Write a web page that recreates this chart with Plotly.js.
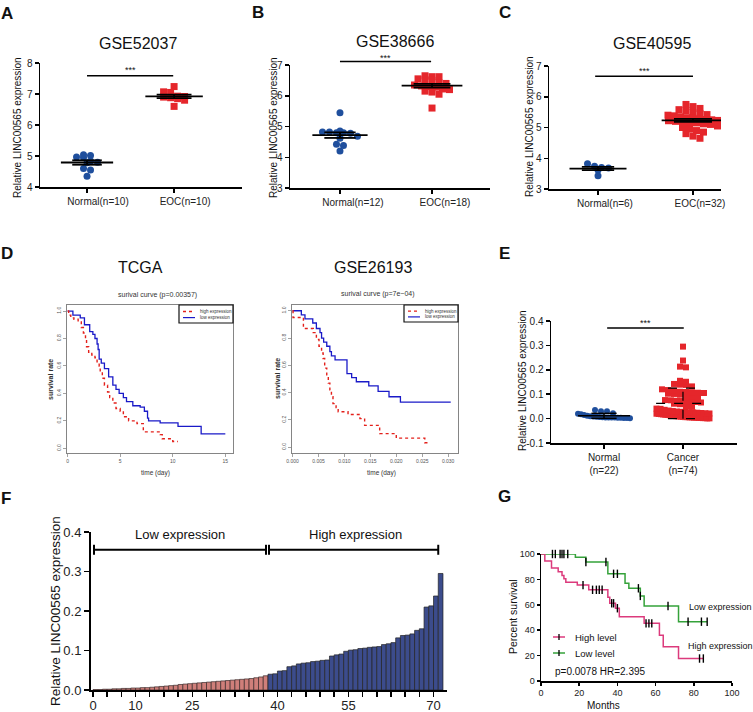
<!DOCTYPE html>
<html><head><meta charset="utf-8">
<script src="https://cdn.plot.ly/plotly-3.0.1.min.js"></script>
<style>html,body{margin:0;padding:0;background:#fff}#chart{width:753px;height:712px}</style>
</head><body><div id="chart"></div>
<script>
// ---------------- DATA ----------------
const aLabels = ['Normal(n=10)', 'EOC(n=10)'];
const aNormal = [5.02, 4.95, 4.97, 5.04, 4.84, 4.80, 4.78, 4.60, 4.55, 4.35];
const aEOC = [7.24, 7.05, 7.07, 6.93, 6.90, 6.88, 6.92, 6.85, 6.80, 6.60];

const bLabels = ['Normal(n=12)', 'EOC(n=18)'];
const bNormal = [5.45, 4.85, 4.82, 4.78, 4.80, 4.82, 4.68, 4.62, 4.42, 4.38, 4.20, 4.80];
const bEOC = [6.65, 6.62, 6.62, 6.55, 6.52, 6.50, 6.42, 6.40, 6.35, 6.32, 6.30, 6.28, 6.22, 6.20, 6.15, 6.12, 6.05, 5.60];

const cLabels = ['Normal(n=6)', 'EOC(n=32)'];
const cNormal = [3.82, 3.74, 3.70, 3.68, 3.62, 3.43];
const cEOC = [5.75, 5.68, 5.62, 5.58, 5.55, 5.48, 5.45, 5.42, 5.40, 5.38, 5.35, 5.32, 5.30, 5.28, 5.26, 5.25,
              5.23, 5.22, 5.20, 5.18, 5.16, 5.15, 5.12, 5.10, 5.05, 5.00, 4.95, 4.90, 4.85, 4.80, 4.72, 4.65];

// D: Kaplan-Meier (time, survival) steps
const tcgaHighT = [0, 0.1, 0.3, 0.6, 1.0, 1.3, 1.5, 1.7, 1.8, 2.0, 2.3, 2.6, 2.8, 3.0, 3.1, 3.3, 3.5, 3.8, 4.0, 4.3, 4.6, 5.0, 5.3, 5.8, 6.6, 7.2, 8.8, 9.0, 9.5, 10.0, 10.5];
const tcgaHighS = [1.0, 0.97, 0.95, 0.94, 0.92, 0.88, 0.84, 0.79, 0.74, 0.70, 0.68, 0.66, 0.63, 0.60, 0.56, 0.51, 0.46, 0.41, 0.37, 0.33, 0.29, 0.27, 0.23, 0.20, 0.18, 0.12, 0.10, 0.07, 0.07, 0.05, 0.05];
const tcgaLowT = [0, 0.5, 1.2, 1.6, 2.1, 2.4, 2.6, 2.8, 2.9, 3.0, 3.2, 3.5, 3.9, 4.3, 4.6, 4.9, 5.3, 5.6, 6.2, 6.9, 7.3, 7.6, 7.7, 8.8, 10.5, 12.7, 15.0];
const tcgaLowS = [1.0, 0.97, 0.95, 0.90, 0.85, 0.83, 0.80, 0.76, 0.72, 0.65, 0.62, 0.58, 0.52, 0.46, 0.43, 0.40, 0.37, 0.34, 0.31, 0.30, 0.27, 0.22, 0.20, 0.185, 0.16, 0.105, 0.105];
const gseHighT = [0, 0.0001, 0.0021, 0.0040, 0.0046, 0.0051, 0.0056, 0.0059, 0.0062, 0.0066, 0.0069, 0.0072, 0.0075, 0.0078, 0.0084, 0.0088, 0.0107, 0.0130, 0.0139, 0.0168, 0.0200, 0.0255, 0.0261];
const gseHighS = [1.0, 0.95, 0.87, 0.84, 0.79, 0.74, 0.69, 0.65, 0.58, 0.53, 0.47, 0.42, 0.37, 0.32, 0.29, 0.26, 0.24, 0.21, 0.16, 0.10, 0.067, 0.033, 0.033];
const gseLowT = [0, 0.0017, 0.0024, 0.0039, 0.0046, 0.0053, 0.0056, 0.0060, 0.0066, 0.0072, 0.0075, 0.0082, 0.0105, 0.0114, 0.0123, 0.0147, 0.0165, 0.0186, 0.0208, 0.0305];
const gseLowS = [1.0, 0.97, 0.94, 0.91, 0.87, 0.84, 0.80, 0.77, 0.74, 0.70, 0.67, 0.64, 0.54, 0.51, 0.48, 0.45, 0.41, 0.37, 0.33, 0.33];

// F / E: relative expression of the 74 cancer samples (sorted)
const fLow = [0.001, 0.001, 0.002, 0.002, 0.003, 0.003, 0.004, 0.004, 0.005, 0.005, 0.006, 0.006, 0.007, 0.008, 0.009, 0.010,
              0.011, 0.012, 0.014, 0.015, 0.016, 0.017, 0.018, 0.019, 0.020, 0.021, 0.022, 0.023, 0.024, 0.025, 0.026, 0.027,
              0.028, 0.029, 0.031, 0.033, 0.036];
const fHigh = [0.040, 0.041, 0.048, 0.049, 0.059, 0.061, 0.066, 0.068, 0.069, 0.072, 0.073, 0.075, 0.076, 0.086, 0.089, 0.091,
               0.098, 0.101, 0.102, 0.105, 0.106, 0.108, 0.109, 0.110, 0.115, 0.117, 0.120, 0.132, 0.138, 0.139, 0.142, 0.151,
               0.155, 0.210, 0.213, 0.238, 0.295];
const fTickText = ['0', '', '', '10', '', '', '', '25', '', '', '', '', '', '40', '', '', '', '', '55', '', '', '', '', '', '70'];

const eLabels = ['Normal<br>(n=22)', 'Cancer<br>(n=74)'];
const eNormal = [0.035, 0.030, 0.030, 0.022, 0.020, 0.018, 0.015, 0.012, 0.010, 0.009, 0.008, 0.007, 0.006, 0.005, 0.005,
                 0.004, 0.004, 0.003, 0.003, 0.002, 0.002, 0.001];
const eCancer = fLow.concat(fHigh);

// G: Kaplan-Meier (months, percent survival)
const gLowT = [0, 18, 23.5, 35, 44, 46, 52, 54, 72, 87];
const gLowS = [100, 97.4, 93.7, 84.4, 77, 73, 67, 59, 46.7, 46.7];
const gLowCens = [6, 7.5, 10, 11, 12, 14, 23.5, 34, 38, 40, 51, 52, 66.5, 77, 84, 87];
const gHighT = [0, 2, 5.5, 9, 11, 12, 13, 19, 25, 35, 36, 39, 41, 54, 62, 64, 72, 85];
const gHighS = [100, 94.4, 88.9, 86, 83, 80.5, 77.8, 75.5, 71.8, 66, 61.2, 57.3, 50.6, 45.4, 36.1, 27, 17.7, 17.7];
const gHighCens = [22, 27, 29, 30.5, 32, 37, 38, 40, 55, 56.5, 58, 83, 85];

// ---------------- LAYOUT HELPERS ----------------
const W = 753, H = 712;
const FF = 'Liberation Sans, Arial, Helvetica, sans-serif';
const BLUE = '#1f4f9d', RED = '#e5262b';
const PX = px => px / W, PY = py => 1 - py / H;
const annotations = [], shapes = [], traces = [];
function txt(px, py, text, o = {}) {
  annotations.push(Object.assign({xref: 'paper', yref: 'paper', x: PX(px), y: PY(py), text, showarrow: false,
    xanchor: 'center', yanchor: 'middle', font: {family: FF, size: 10, color: '#111'}}, o));
}
function seg(x0, y0, x1, y1, color = '#000', width = 1.5, dash = 'solid') {
  shapes.push({type: 'line', xref: 'paper', yref: 'paper', x0: PX(x0), y0: PY(y0), x1: PX(x1), y1: PY(y1), line: {color, width, dash}});
}
function rect(x0, y0, x1, y1, color, width) {
  shapes.push({type: 'rect', xref: 'paper', yref: 'paper', x0: PX(x0), y0: PY(y0), x1: PX(x1), y1: PY(y1), line: {color, width}, fillcolor: '#fff'});
}
const pA = {L: 40, R: 242, T: 63, B: 187, xr: [-0.54, 1.78], yr: [4, 8]};
const pB = {L: 290, R: 490, T: 65, B: 188, xr: [-0.543, 1.63], yr: [3, 7]};
const pC = {L: 549, R: 721, T: 66, B: 189, xr: [-0.516, 1.295], yr: [3, 7]};
const pD1 = {L: 67, R: 233, T: 305, B: 453, xr: [-0.06, 15.73], yr: [-0.034, 1.044]};
const pD2 = {L: 292, R: 458, T: 305, B: 453, xr: [-0.0001, 0.0319], yr: [-0.042, 1.042]};
const pE = {L: 551, R: 737, T: 321, B: 443, xr: [-0.671, 1.684], yr: [-0.1, 0.4]};
const pF = {L: 91, R: 447, T: 532, B: 690, xr: [-0.92, 74.35], yr: [0, 0.4]};
const pG = {L: 541, R: 732, T: 554, B: 681, xr: [0, 100], yr: [0, 100]};
function toPx(p, xv, yv) {
  return [p.L + (xv - p.xr[0]) / (p.xr[1] - p.xr[0]) * (p.R - p.L), p.B - (yv - p.yr[0]) / (p.yr[1] - p.yr[0]) * (p.B - p.T)];
}
const dx = p => [p.L / W, p.R / W], dy = p => [1 - p.B / H, 1 - p.T / H];
const uX = p => (p.R - p.L) / (p.xr[1] - p.xr[0]), uY = p => (p.B - p.T) / (p.yr[1] - p.yr[0]);

function swarm(vals, center, p, d, maxW) {
  const idx = vals.map((v, i) => i).sort((a, b) => vals[b] - vals[a]);
  const binH = d * 0.85, bins = {};
  idx.forEach(i => { const b = Math.floor(vals[i] * uY(p) / binH); (bins[b] = bins[b] || []).push(i); });
  const xs = new Array(vals.length);
  Object.values(bins).forEach(arr => {
    const n = arr.length, sp = n > 1 ? Math.min(d, maxW / (n - 1)) : 0;
    arr.forEach((i, k) => { xs[i] = center + ((k - (n - 1) / 2) * sp) / uX(p); });
  });
  return xs;
}
function stats(v) {
  const n = v.length, m = v.reduce((a, b) => a + b, 0) / n;
  const sd = Math.sqrt(v.reduce((a, b) => a + (b - m) * (b - m), 0) / (n - 1));
  return {m, sd, sem: sd / Math.sqrt(n)};
}
function errTrace(xa, ya, c, m, spread, half, cap, dash, width) {
  const lo = m - spread, hi = m + spread;
  return {type: 'scatter', mode: 'lines', xaxis: xa, yaxis: ya, hoverinfo: 'skip',
    x: [c - half, c + half, null, c, c, null, c - cap, c + cap, null, c - cap, c + cap],
    y: [m, m, null, lo, hi, null, lo, lo, null, hi, hi], line: {color: '#000', width: width || 1.8, dash: dash || 'solid'}};
}
function dotPanel(xa, ya, p, g0, g1, sym1, d, w0, w1) {
  traces.push({type: 'scatter', mode: 'markers', xaxis: xa, yaxis: ya, x: swarm(g0, 0, p, d, w0), y: g0,
    marker: {symbol: 'circle', size: d, color: BLUE}, hoverinfo: 'skip'});
  traces.push({type: 'scatter', mode: 'markers', xaxis: xa, yaxis: ya, x: swarm(g1, 1, p, d, w1), y: g1,
    marker: {symbol: sym1, size: d, color: RED}, hoverinfo: 'skip'});
}
function sig(p, x0, x1, yv, ystar) {
  const a = toPx(p, x0, yv), b = toPx(p, x1, yv);
  seg(a[0], a[1], b[0], b[1], '#000', 1.5);
  const s = toPx(p, (x0 + x1) / 2, ystar);
  txt(s[0], s[1], '***', {font: {family: FF, size: 9, color: '#111'}});
}
function stepAt(T, S, t) { let v = S[0]; for (let i = 0; i < T.length; i++) if (T[i] <= t) v = S[i]; return v; }

// ---------------- TRACES ----------------
[['x', 'y', pA, aNormal, aEOC, 40, 55], ['x2', 'y2', pB, bNormal, bEOC, 60, 60], ['x3', 'y3', pC, cNormal, cEOC, 28, 50]]
  .forEach(([xa, ya, p, g0, g1, w0, w1]) => {
    dotPanel(xa, ya, p, g0, g1, 'square', 7, w0, w1);
    const s0 = stats(g0), s1 = stats(g1);
    traces.push(errTrace(xa, ya, 0, s0.m, s0.sem, 0.3, 0.17));
    traces.push(errTrace(xa, ya, 1, s1.m, s1.sem, 0.33, 0.2));
  });
dotPanel('x6', 'y6', pE, eNormal, eCancer, 'square', 6, 52, 53);
{ const s0 = stats(eNormal), s1 = stats(eCancer);
  traces.push(errTrace('x6', 'y6', 0, s0.m, s0.sd, 0.33, 0.16, 'solid', 1.5));
  traces.push(errTrace('x6', 'y6', 1, s1.m, s1.sd, 0.34, 0.19, 'dash', 1.2)); }

const DRED = '#e3201b', DBLUE = '#1a1ac8';
traces.push({type: 'scatter', mode: 'lines', xaxis: 'x4', yaxis: 'y4', x: tcgaLowT, y: tcgaLowS, line: {shape: 'hv', color: DBLUE, width: 1.3}});
traces.push({type: 'scatter', mode: 'lines', xaxis: 'x4', yaxis: 'y4', x: tcgaHighT, y: tcgaHighS, line: {shape: 'hv', color: DRED, width: 1.4, dash: 'dot'}});
traces.push({type: 'scatter', mode: 'lines', xaxis: 'x5', yaxis: 'y5', x: gseLowT, y: gseLowS, line: {shape: 'hv', color: DBLUE, width: 1.3}});
traces.push({type: 'scatter', mode: 'lines', xaxis: 'x5', yaxis: 'y5', x: gseHighT, y: gseHighS, line: {shape: 'hv', color: DRED, width: 1.4, dash: 'dot'}});

traces.push({type: 'bar', xaxis: 'x7', yaxis: 'y7', x: fLow.map((v, i) => i), y: fLow, width: 1,
  marker: {color: '#cf7f7a', line: {color: '#3a2a2a', width: 0.7}}, hoverinfo: 'skip'});
traces.push({type: 'bar', xaxis: 'x7', yaxis: 'y7', x: fHigh.map((v, i) => i + fLow.length), y: fHigh, width: 1,
  marker: {color: '#3c4c8c', line: {color: '#222', width: 0.7}}, hoverinfo: 'skip'});

const GMAG = '#dc3a7c', GGRN = '#35a23a';
traces.push({type: 'scatter', mode: 'lines', xaxis: 'x8', yaxis: 'y8', x: gLowT, y: gLowS, line: {shape: 'hv', color: GGRN, width: 1.5}});
traces.push({type: 'scatter', mode: 'lines', xaxis: 'x8', yaxis: 'y8', x: gHighT, y: gHighS, line: {shape: 'hv', color: GMAG, width: 1.5}});
traces.push({type: 'scatter', mode: 'markers', xaxis: 'x8', yaxis: 'y8', x: gLowCens, y: gLowCens.map(t => stepAt(gLowT, gLowS, t)),
  marker: {symbol: 'line-ns', size: 6, color: '#000', line: {color: '#000', width: 1.4}}, cliponaxis: false});
traces.push({type: 'scatter', mode: 'markers', xaxis: 'x8', yaxis: 'y8', x: gHighCens, y: gHighCens.map(t => stepAt(gHighT, gHighS, t)),
  marker: {symbol: 'line-ns', size: 6, color: '#000', line: {color: '#000', width: 1.4}}, cliponaxis: false});

// ---------------- AXES ----------------
const base = {showline: true, linecolor: '#000', linewidth: 1.5, ticks: 'outside', ticklen: 4, tickwidth: 1.5, tickcolor: '#000',
  showgrid: false, zeroline: false, tickfont: {family: FF, size: 10, color: '#222'}, fixedrange: true};
const rAx = {showline: true, mirror: true, linecolor: '#666', linewidth: 0.8, ticks: 'outside', ticklen: 3, tickwidth: 0.6, tickcolor: '#666',
  showgrid: false, zeroline: false, tickfont: {family: FF, size: 5, color: '#555'}, fixedrange: true};
const kmY = {tickvals: [0, 0.2, 0.4, 0.6, 0.8, 1.0], ticktext: ['0.0', '0.2', '0.4', '0.6', '0.8', '1.0'], tickangle: -90};

const fTicks = fTickText.map((t, k) => -0.5 + 3 * k);

const layout = {
  width: W, height: H, margin: {l: 0, r: 0, t: 0, b: 0}, paper_bgcolor: '#fff', plot_bgcolor: 'rgba(0,0,0,0)',
  showlegend: false, barmode: 'overlay', font: {family: FF},
  xaxis: Object.assign({}, base, {domain: dx(pA), range: pA.xr, anchor: 'y', tickvals: [0, 1], ticktext: aLabels, ticklabelshift: 11}),
  yaxis: Object.assign({}, base, {domain: dy(pA), range: pA.yr, anchor: 'x', tick0: 4, dtick: 1}),
  xaxis2: Object.assign({}, base, {domain: dx(pB), range: pB.xr, anchor: 'y2', tickvals: [0, 1], ticktext: bLabels, ticklabelshift: 13}),
  yaxis2: Object.assign({}, base, {domain: dy(pB), range: pB.yr, anchor: 'x2', tick0: 3, dtick: 1}),
  xaxis3: Object.assign({}, base, {domain: dx(pC), range: pC.xr, anchor: 'y3', tickvals: [0, 1], ticktext: cLabels, ticklabelshift: 7}),
  yaxis3: Object.assign({}, base, {domain: dy(pC), range: pC.yr, anchor: 'x3', tick0: 3, dtick: 1}),
  xaxis4: Object.assign({}, rAx, {domain: dx(pD1), range: pD1.xr, anchor: 'y4', tickvals: [0, 5, 10, 15]}),
  yaxis4: Object.assign({}, rAx, kmY, {domain: dy(pD1), range: pD1.yr, anchor: 'x4'}),
  xaxis5: Object.assign({}, rAx, {domain: dx(pD2), range: pD2.xr, anchor: 'y5', tickvals: [0, 0.005, 0.01, 0.015, 0.02, 0.025, 0.03],
    ticktext: ['0.000', '0.005', '0.010', '0.015', '0.020', '0.025', '0.030']}),
  yaxis5: Object.assign({}, rAx, kmY, {domain: dy(pD2), range: pD2.yr, anchor: 'x5'}),
  xaxis6: Object.assign({}, base, {domain: dx(pE), range: pE.xr, anchor: 'y6', tickvals: [0, 1], ticktext: eLabels}),
  yaxis6: Object.assign({}, base, {domain: dy(pE), range: pE.yr, anchor: 'x6', tickvals: [-0.1, 0, 0.1, 0.2, 0.3, 0.4],
    ticktext: ['-0.1', '0.0', '0.1', '0.2', '0.3', '0.4']}),
  xaxis7: Object.assign({}, base, {domain: dx(pF), range: pF.xr, anchor: 'y7', tickvals: fTicks, ticktext: fTickText,
    linewidth: 2, tickwidth: 1.5, ticklen: 5, ticklabelstandoff: -3, tickfont: {family: FF, size: 13, color: '#222'}}),
  yaxis7: Object.assign({}, base, {domain: dy(pF), range: pF.yr, anchor: 'x7', dtick: 0.1, tickformat: '.1f',
    linewidth: 2, tickwidth: 1.5, ticklen: 5, tickfont: {family: FF, size: 13, color: '#222'}}),
  xaxis8: Object.assign({}, base, {domain: dx(pG), range: pG.xr, anchor: 'y8', dtick: 20, tick0: 0, ticklen: 3, tickfont: {family: FF, size: 9, color: '#222'}}),
  yaxis8: Object.assign({}, base, {domain: dy(pG), range: pG.yr, anchor: 'x8', dtick: 20, tick0: 0, ticklen: 3, tickfont: {family: FF, size: 9, color: '#222'}}),
  annotations, shapes
};

// ---------------- TEXT / DECORATION ----------------
[['A', 7, 14], ['B', 258, 13], ['C', 505, 13], ['D', 7, 253], ['E', 505, 253], ['F', 6, 498], ['G', 505, 496]]
  .forEach(([t, x, y]) => txt(x, y, '<b>' + t + '</b>', {font: {family: FF, size: 17, color: '#111'}}));
[['GSE52037', 138, 43], ['GSE38666', 395, 42], ['GSE40595', 652, 43], ['TCGA', 140, 267], ['GSE26193', 373, 267]]
  .forEach(([t, x, y]) => txt(x, y, t, {font: {family: FF, size: 16, color: '#111'}}));
const ytitle = 'Relative LINC00565 expression';
[[17, 128], [273, 128], [530, 127], [522, 381]].forEach(([x, y]) => txt(x, y, ytitle, {textangle: -90, font: {family: FF, size: 10, color: '#111'}}));
txt(55, 611, ytitle, {textangle: -90, font: {family: FF, size: 13.5, color: '#111'}});
txt(513, 617, 'Percent survival', {textangle: -90, font: {family: FF, size: 10.5, color: '#111'}});
txt(603, 705, 'Months', {font: {family: FF, size: 10, color: '#111'}});

sig(pA, 0.0, 0.99, 7.59, 7.76);
sig(pB, 0.0, 0.99, 7.11, 7.22);
sig(pC, -0.03, 1.0, 6.67, 6.84);
sig(pE, 0.04, 1.01, 0.371, 0.392);

txt(157, 295, 'surival curve (p=0.00357)', {font: {family: FF, size: 7, color: '#333'}});
txt(378, 294, 'surival curve (p=7e\u221204)', {font: {family: FF, size: 7, color: '#333'}});
txt(50, 380, '<b>survival rate</b>', {textangle: -90, font: {family: FF, size: 7, color: '#333'}});
txt(277, 379, '<b>survival rate</b>', {textangle: -90, font: {family: FF, size: 7, color: '#333'}});
txt(155, 473, 'time (day)', {font: {family: FF, size: 6.5, color: '#333'}});
txt(381, 473, 'time (day)', {font: {family: FF, size: 6.5, color: '#333'}});
function kmLegend(x0, y0, x1, y1) {
  rect(x0, y0, x1, y1, '#111', 1.2);
  const ya = y0 + (y1 - y0) * 0.36, yb = y0 + (y1 - y0) * 0.7;
  seg(x0 + 4, ya, x0 + 16, ya, DRED, 1.3, 'dot');
  seg(x0 + 4, yb, x0 + 16, yb, DBLUE, 1.2);
  txt(x0 + 19, ya, 'high expression', {xanchor: 'left', font: {family: FF, size: 4.5, color: '#333'}});
  txt(x0 + 19, yb, 'low expression', {xanchor: 'left', font: {family: FF, size: 4.5, color: '#333'}});
}
kmLegend(179, 305, 233, 323);
kmLegend(404, 305, 458, 322);

{
  const yb = toPx(pF, 0, 0.355)[1];
  const x0 = toPx(pF, -0.5, 0)[0], xm = toPx(pF, fLow.length - 0.5, 0)[0], x1 = toPx(pF, eCancer.length - 1.5, 0)[0];
  seg(x0 + 1, yb, xm - 2, yb, '#000', 2); seg(xm + 1, yb, x1, yb, '#000', 2);
  [x0 + 1, xm - 2, xm + 1, x1].forEach(x => seg(x, yb - 5, x, yb + 5, '#000', 2));
  txt((x0 + xm) / 2, 534, 'Low expression', {font: {family: FF, size: 13, color: '#111'}});
  txt((xm + x1) / 2 + 2, 534, 'High expression', {font: {family: FF, size: 13, color: '#111'}});
}

seg(553, 637, 565, 637, GMAG, 1.5); seg(559, 634, 559, 640, '#000', 1.3);
seg(553, 653, 565, 653, GGRN, 1.5); seg(559, 650, 559, 656, '#000', 1.3);
txt(573, 637, 'High level', {xanchor: 'left', font: {family: FF, size: 9.5, color: '#111'}});
txt(573, 653, 'Low level', {xanchor: 'left', font: {family: FF, size: 9.5, color: '#111'}});
txt(553, 671, 'p=0.0078 HR=2.395', {xanchor: 'left', font: {family: FF, size: 10, color: '#111'}});
txt(687, 607, 'Low expression', {xanchor: 'left', font: {family: FF, size: 9, color: '#111'}});
txt(686, 646, 'High expression', {xanchor: 'left', font: {family: FF, size: 9, color: '#111'}});

Plotly.newPlot('chart', traces, layout, {staticPlot: true, displayModeBar: false});
</script></body></html>
